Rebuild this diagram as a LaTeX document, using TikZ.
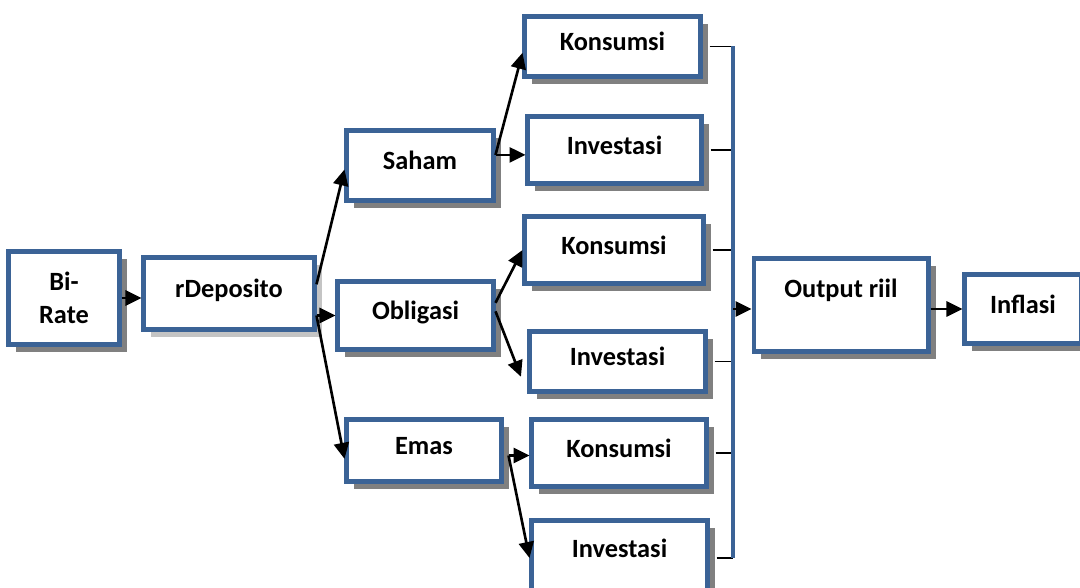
\documentclass[tikz,border=0pt]{standalone}
\usepackage{fontspec}
\setmainfont{Carlito}
\usepackage{tikz}
\usetikzlibrary{shapes,arrows.meta,positioning,shadows}
\usepackage{xcolor}

\definecolor{boxblue}{RGB}{59,99,150}
\definecolor{shadowgray}{RGB}{128,128,128}
\definecolor{lightshadow}{RGB}{196,196,196}

\tikzset{
    flowbox/.style={draw=boxblue, line width=2.3pt, fill=white, align=center,
        font=\fontsize{15}{18}\selectfont\bfseries, text depth=0.2cm, inner sep=2pt,
        drop shadow={shadow xshift=0.15cm, shadow yshift=-0.15cm, fill=#1, opacity=1}},
    flowbox/.default=shadowgray,
    conn/.style={line width=1.5pt, ->},
    tick/.style={line width=1pt, black},
    busline/.style={line width=2pt, boxblue}
}

\begin{document}
\begin{tikzpicture}[x=0.02cm, y=-0.02cm, >={Triangle[length=0.32cm, width=0.3cm]}]
        \useasboundingbox (0,0) rectangle (1080,588);

        % Policy side
        \node[flowbox, minimum width=2.22cm, minimum height=1.86cm, text depth=] (birate) at (64,298) {Bi-\\[1pt]Rate};
        \node[flowbox=lightshadow, minimum width=3.42cm, minimum height=1.44cm] (rdeposito) at (229,293.5) {rDeposito};

        % Assets
        \node[flowbox, minimum width=2.94cm, minimum height=1.40cm] (saham) at (420,165.5) {Saham};
        \node[flowbox, minimum width=3.12cm, minimum height=1.36cm] (obligasi) at (415.5,315.5) {Obligasi};
        \node[flowbox, minimum width=3.10cm, minimum height=1.24cm] (emas) at (424,450.5) {Emas};

        % Spending
        \node[flowbox, minimum width=3.52cm, minimum height=1.20cm] (konsumsiA) at (612.5,46.5) {Konsumsi};
        \node[flowbox, minimum width=3.48cm, minimum height=1.34cm] (investasiA) at (614.5,150) {Investasi};
        \node[flowbox, minimum width=3.58cm, minimum height=1.34cm] (konsumsiB) at (614,250) {Konsumsi};
        \node[flowbox, minimum width=3.52cm, minimum height=1.20cm] (investasiB) at (617.5,361.5) {Investasi};
        \node[flowbox, minimum width=3.50cm, minimum height=1.34cm] (konsumsiC) at (619,453) {Konsumsi};
        \node[flowbox, minimum width=3.52cm, minimum height=1.50cm, text depth=0.4cm] (investasiC) at (619.5,558) {Investasi};

        % Output and prices
        \node[flowbox, minimum width=3.50cm, minimum height=1.86cm, text depth=0.68cm] (output) at (841,305) {Output riil};
        \node[flowbox, minimum width=2.34cm, minimum height=1.38cm] (inflasi) at (1023,309) {Inflasi};

        % Bi-Rate to rDeposito, then to the assets
        \draw[conn] (birate.east) -- (birate.east -| rdeposito.west);
        \coordinate (rsplit) at (rdeposito.east |- obligasi.west);
        \draw[conn] (rdeposito.6) -- (saham.183);
        \draw[conn] (rsplit) -- (obligasi.west);
        \draw[conn] (rsplit) -- (emas.186);

        % Saham splits
        \coordinate (ssplit) at (saham.8);
        \draw[conn] (ssplit) -- (konsumsiA.184);
        \draw[conn] (ssplit) -- (ssplit -| investasiA.west);

        % Obligasi splits
        \draw[conn] (obligasi.9) -- (konsumsiB.west);
        \draw[conn, shorten >=0.36cm] (obligasi.3) -- (investasiB.south west);

        % Emas splits
        \coordinate (esplit) at ([xshift=0.1cm, yshift=-0.1cm]emas.east);
        \draw[conn] (esplit) -- (esplit -| konsumsiC.west);
        \draw[conn] (esplit) -- (investasiC.west);

        % Collecting line into Output riil
        \coordinate (bus) at (733,0);
        \foreach \n in {konsumsiA, investasiA, konsumsiB, investasiB, konsumsiC, investasiC} {
            \draw[tick] ([xshift=0.14cm]\n.east) -- (\n.east -| bus);
        }
        \draw[busline] (konsumsiA.east -| bus) -- (investasiC.east -| bus);
        \draw[conn] (bus |- inflasi.west) -- (output.west |- inflasi.west);
        \draw[conn] (output.east |- inflasi.west) -- (inflasi.west);
    \end{tikzpicture}
\end{document}
